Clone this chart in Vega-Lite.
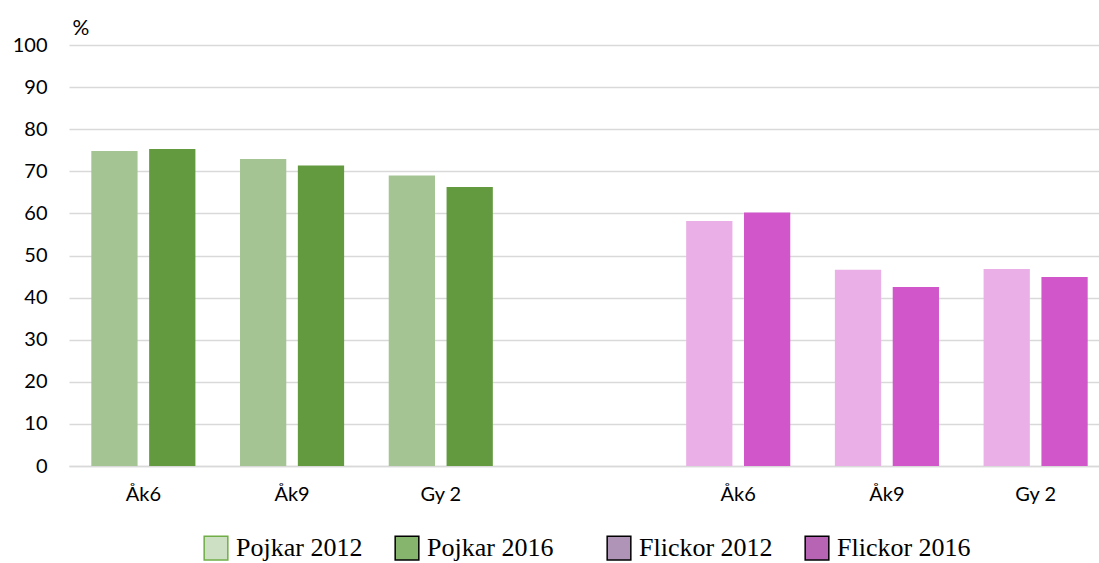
{
  "$schema": "https://vega.github.io/schema/vega-lite/v6.json",
  "width": 1030,
  "height": 421,
  "autosize": {"type": "none"},
  "padding": {"left": 69, "top": 45, "right": 0, "bottom": 97},
  "background": "white",
  "data": {
    "values": [
      {"group": "P-Åk6", "sex": "Pojkar", "year": "2012", "series": "Pojkar 2012", "value": 74.8},
      {"group": "P-Åk6", "sex": "Pojkar", "year": "2016", "series": "Pojkar 2016", "value": 75.3},
      {"group": "P-Åk9", "sex": "Pojkar", "year": "2012", "series": "Pojkar 2012", "value": 72.9},
      {"group": "P-Åk9", "sex": "Pojkar", "year": "2016", "series": "Pojkar 2016", "value": 71.4},
      {"group": "P-Gy 2", "sex": "Pojkar", "year": "2012", "series": "Pojkar 2012", "value": 69.0},
      {"group": "P-Gy 2", "sex": "Pojkar", "year": "2016", "series": "Pojkar 2016", "value": 66.3},
      {"group": "F-Åk6", "sex": "Flickor", "year": "2012", "series": "Flickor 2012", "value": 58.2},
      {"group": "F-Åk6", "sex": "Flickor", "year": "2016", "series": "Flickor 2016", "value": 60.2},
      {"group": "F-Åk9", "sex": "Flickor", "year": "2012", "series": "Flickor 2012", "value": 46.6},
      {"group": "F-Åk9", "sex": "Flickor", "year": "2016", "series": "Flickor 2016", "value": 42.5},
      {"group": "F-Gy 2", "sex": "Flickor", "year": "2012", "series": "Flickor 2012", "value": 46.8},
      {"group": "F-Gy 2", "sex": "Flickor", "year": "2016", "series": "Flickor 2016", "value": 44.9}
    ]
  },
  "encoding": {
    "x": {
      "field": "group",
      "type": "nominal",
      "sort": null,
      "scale": {
        "domain": ["P-Åk6", "P-Åk9", "P-Gy 2", "gap", "F-Åk6", "F-Åk9", "F-Gy 2"],
        "range": [0, 1041],
        "paddingInner": 0.3,
        "paddingOuter": 0.15
      },
      "axis": {
        "title": null,
        "labelAngle": 0,
        "labelExpr": "datum.value === 'gap' ? '' : slice(datum.value, 2)",
        "ticks": false,
        "domain": true,
        "domainColor": "#d9d9d9",
        "domainWidth": 1.5,
        "labelPadding": 18,
        "labelFont": "Lato",
        "labelFontSize": 20,
        "labelColor": "#000000"
      }
    }
  },
  "layer": [
    {
      "mark": {"type": "bar"},
      "encoding": {
        "xOffset": {
          "field": "year",
          "type": "nominal",
          "scale": {"domain": ["2012", "2016"], "paddingInner": 0.2, "paddingOuter": 0}
        },
        "y": {
          "field": "value",
          "type": "quantitative",
          "scale": {"domain": [0, 100], "nice": false},
          "axis": {
            "values": [0, 10, 20, 30, 40, 50, 60, 70, 80, 90, 100],
            "title": "%",
            "titleAngle": 0,
            "titleX": 3,
            "titleY": -11,
            "titleAlign": "left",
            "titleBaseline": "alphabetic",
            "titleFont": "Lato",
            "titleFontSize": 21,
            "titleFontWeight": "normal",
            "titleColor": "#000000",
            "domain": false,
            "ticks": false,
            "labelPadding": 22,
            "labelFont": "Lato",
            "labelFontSize": 20,
            "labelColor": "#000000",
            "grid": true,
            "gridColor": "#d9d9d9",
            "gridWidth": 1.5
          }
        },
        "fill": {
          "field": "series",
          "type": "nominal",
          "scale": {
            "domain": ["Pojkar 2012", "Pojkar 2016", "Flickor 2012", "Flickor 2016"],
            "range": ["#a5c493", "#639a3f", "#eaafe6", "#d156ca"]
          },
          "legend": null
        }
      }
    },
    {
      "transform": [{"filter": "datum.sex === 'Pojkar'"}],
      "mark": {"type": "point", "shape": "square", "filled": true, "opacity": 0},
      "encoding": {
        "fill": {
          "field": "series",
          "type": "nominal",
          "scale": {"domain": ["Pojkar 2012", "Pojkar 2016"], "range": ["#cde0c4", "#86b56e"]},
          "legend": {
            "orient": "none",
            "legendX": 134,
            "legendY": 490,
            "direction": "horizontal",
            "title": null,
            "symbolType": "square",
            "symbolSize": 560,
            "symbolOpacity": 1,
            "symbolStrokeWidth": 1.5,
            "labelFont": "Liberation Serif",
            "labelFontSize": 26,
            "labelColor": "#000000",
            "labelOffset": 7,
            "columnPadding": 29,
            "encode": {
              "symbols": {
                "update": {
                  "opacity": {"value": 1},
                  "stroke": {"signal": "datum.value === 'Pojkar 2012' ? '#70ad47' : '#000000'"}
                }
              }
            }
          }
        }
      }
    },
    {
      "transform": [{"filter": "datum.sex === 'Flickor'"}],
      "mark": {"type": "point", "shape": "square", "filled": true, "opacity": 0},
      "encoding": {
        "fill": {
          "field": "series",
          "type": "nominal",
          "scale": {"domain": ["Flickor 2012", "Flickor 2016"], "range": ["#b094b8", "#b864b4"]},
          "legend": {
            "orient": "none",
            "legendX": 537,
            "legendY": 490,
            "direction": "horizontal",
            "title": null,
            "symbolType": "square",
            "symbolSize": 560,
            "symbolOpacity": 1,
            "symbolStrokeWidth": 1.5,
            "labelFont": "Liberation Serif",
            "labelFontSize": 26,
            "labelColor": "#000000",
            "labelOffset": 7,
            "columnPadding": 29,
            "encode": {
              "symbols": {
                "update": {
                  "opacity": {"value": 1},
                  "stroke": {"value": "#000000"}
                }
              }
            }
          }
        }
      }
    }
  ],
  "resolve": {"scale": {"fill": "independent"}},
  "config": {
    "view": {"stroke": null}
  }
}
